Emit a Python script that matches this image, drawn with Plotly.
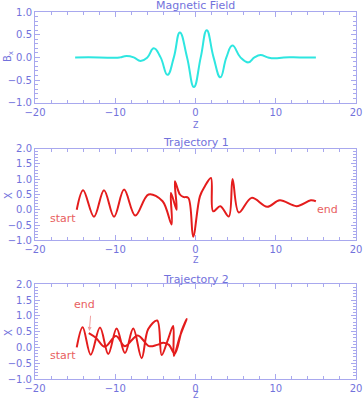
import plotly.graph_objects as go

# ---------------- data ----------------
field_z = [-15.0, -12.0, -10.0, -9.4, -8.6, -7.7, -6.85, -6.0, -5.2, -4.35, -3.5, -2.7,
           -1.95, -1.05, -0.2, 0.65, 1.4, 2.25, 3.1, 3.85, 4.6, 5.6, 6.6, 7.35, 8.1, 9.0,
           9.9, 11.0, 13.0, 15.0]
field_b = [0.0, 0.0, -0.01, 0.0, 0.03, 0.0, -0.08, 0.0, 0.20, 0.0, -0.385, 0.0,
           0.55, 0.0, -0.655, 0.0, 0.60, 0.0, -0.44, 0.0, 0.26, 0.0, -0.11, 0.0, 0.05, 0.0,
           -0.02, 0.0, 0.0, 0.0]

traj1_z = [-14.8, -14.0, -12.65, -11.4, -10.15, -8.9, -7.5, -5.85, -4.1, -2.98, -3.06,
           -2.35, -2.57, -1.94, -1.53, -0.9, -0.29, 0.55, 1.17, 1.92, 2.2, 3.1, 4.15,
           4.62, 5.4, 6.99, 8.93, 10.5, 12.6, 14.37, 15.0]
traj1_x = [0.0, 0.64, -0.23, 0.64, -0.23, 0.66, -0.19, 0.50, 0.28, -0.48, 0.55,
           0.0, 0.93, 0.50, 0.42, 0.39, -0.88, 0.44, 0.77, 1.04, -0.05, 0.12, -0.22,
           1.01, -0.09, 0.39, 0.10, 0.31, 0.12, 0.31, 0.28]

traj2_z = [-14.8, -14.06, -13.06, -11.9, -10.87, -9.83, -8.79, -7.76, -6.71, -5.89,
           -4.77, -4.22, -3.5, -2.78, -2.69, -1.94, -1.1,
           -1.7, -2.6, -3.3, -4.0, -4.8, -5.8, -7.2, -8.8, -9.9, -11.3, -12.4, -13.3]
traj2_x = [0.0, 0.64, -0.23, 0.63, -0.21, 0.60, -0.18, 0.60, -0.34, 0.58,
           0.85, -0.24, 0.20, 0.68, -0.27, 0.35, 0.90,
           0.55, -0.20, 0.08, 0.15, 0.08, 0.04, 0.38, 0.04, 0.36, 0.02, 0.30, 0.45]

x_ticks = [-20, -10, 0, 10, 20]

AX = "#7272dc"
LN = "#a8a8ee"
FONT = "DejaVu Sans"
RED = "#e41c1c"
LRED = "#e86060"

fig = go.Figure()
fig.add_trace(go.Scatter(x=field_z, y=field_b, mode="lines",
                         line=dict(color="#2ee6e0", width=2, shape="spline", smoothing=1.3),
                         xaxis="x", yaxis="y", showlegend=False))
fig.add_trace(go.Scatter(x=traj1_z, y=traj1_x, mode="lines", line=dict(color=RED, width=2, shape="spline"),
                         xaxis="x2", yaxis="y2", showlegend=False))
fig.add_trace(go.Scatter(x=traj2_z, y=traj2_x, mode="lines", line=dict(color=RED, width=2, shape="spline"),
                         xaxis="x3", yaxis="y3", showlegend=False))

def xax(anchor):
    return dict(range=[-20, 20], tickvals=x_ticks, ticks="inside", ticklen=5, tickwidth=1,
                tickcolor=LN, linecolor=LN, linewidth=1, mirror="allticks", showgrid=False,
                zeroline=False, showline=True, anchor=anchor, automargin=False,
                minor=dict(dtick=2, ticks="inside", ticklen=3, tickcolor=LN),
                tickfont=dict(family=FONT, size=10, color=AX))

def yax(anchor, rng, dom):
    return dict(range=rng, domain=dom, dtick=0.5, tickformat=".1f", ticks="inside", ticklen=5,
                tickcolor=LN, linecolor=LN, linewidth=1, mirror="allticks", showgrid=False,
                zeroline=False, showline=True, anchor=anchor, automargin=False,
                minor=dict(dtick=0.1, ticks="inside", ticklen=3, tickcolor=LN),
                tickfont=dict(family=FONT, size=10, color=AX))

fig.update_layout(
    width=363, height=400, paper_bgcolor="white", plot_bgcolor="white",
    margin=dict(l=35, r=7, t=12, b=21, autoexpand=False),
    xaxis=xax("y"), yaxis=yax("x", [-1, 1], [0.7527, 1.0]),
    xaxis2=xax("y2"), yaxis2=yax("x2", [-1, 2], [0.3777, 0.6277]),
    xaxis3=xax("y3"), yaxis3=yax("x3", [-1, 2], [0.0, 0.2582]),
    font=dict(family=FONT, color=AX),
)

def px(xp):
    return (xp - 35) / 321.0

def py(yp):
    return (379 - yp) / 367.0

ann = []
for txt, yp in [("Magnetic Field", 6), ("Trajectory 1", 142), ("Trajectory 2", 279)]:
    ann.append(dict(text=txt, xref="paper", yref="paper", x=px(196), y=py(yp), yanchor="middle",
                    showarrow=False, font=dict(family=FONT, size=11, color=AX)))
for yp in [125.5, 260.5, 396]:
    ann.append(dict(text="Z", xref="paper", yref="paper", x=px(196), y=py(yp), yanchor="middle",
                    showarrow=False, font=dict(family=FONT, size=8, color=AX)))
for txt, yp in [("B<sub>x</sub>", 57), ("X", 196), ("X", 333)]:
    ann.append(dict(text=txt, xref="paper", yref="paper", x=px(8), y=py(yp), xanchor="center",
                    yanchor="middle", textangle=-90, showarrow=False,
                    font=dict(family=FONT, size=10, color=AX)))
ann += [
    dict(text="start", xref="x2", yref="y2", x=-16.5, y=-0.28, showarrow=False,
         font=dict(family=FONT, size=11, color=LRED)),
    dict(text="end", xref="x2", yref="y2", x=16.5, y=0.0, showarrow=False,
         font=dict(family=FONT, size=11, color=LRED)),
    dict(text="start", xref="x3", yref="y3", x=-16.5, y=-0.27, showarrow=False,
         font=dict(family=FONT, size=11, color=LRED)),
    dict(text="end", xref="x3", yref="y3", x=-13.8, y=1.37, showarrow=False,
         font=dict(family=FONT, size=11, color=LRED)),
    dict(text="", xref="x3", yref="y3", axref="x3", ayref="y3", x=-13.23, y=0.52,
         ax=-13.06, ay=1.05, showarrow=True, arrowhead=2, arrowsize=0.8, arrowwidth=1,
         arrowcolor="#f0a0a0"),
]
fig.update_layout(annotations=ann)
fig.write_html("out.html", config={"displayModeBar": False},
               post_script="document.body.style.margin='0';")
